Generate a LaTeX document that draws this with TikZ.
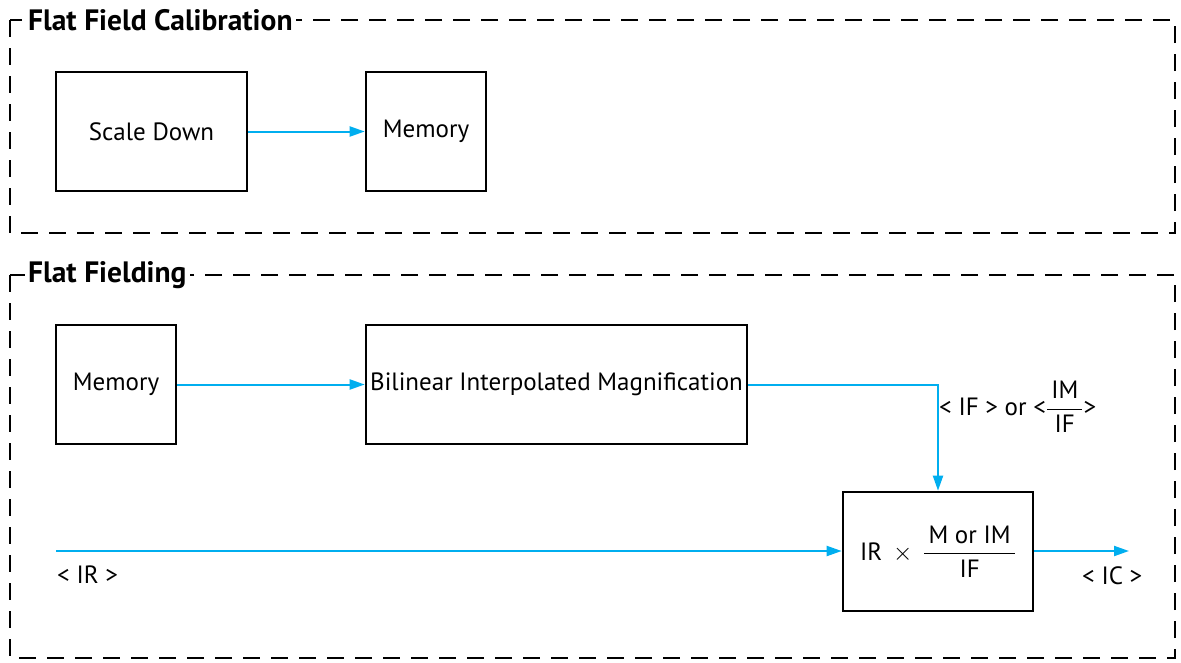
\documentclass[tikz,border=0pt]{standalone}
\usepackage{amsmath}
\usepackage{fontspec}
\setmainfont{PT Sans}
\usetikzlibrary{arrows.meta}
\definecolor{flowblue}{HTML}{00AEEF}
\tikzset{
  block/.style={draw=black, line width=2.6pt, fill=white, inner sep=0pt, font=\fontsize{25}{29}\selectfont},
  group/.style={draw=black, line width=2pt, dash pattern=on 17pt off 11pt},
  grouptitle/.style={fill=white, inner sep=3pt, anchor=west, font=\fontsize{29.5}{33}\selectfont\bfseries},
  flow/.style={draw=flowblue, line width=2pt, -{Triangle[length=15pt,width=10pt]}},
  lbl/.style={font=\fontsize{25}{29}\selectfont, inner sep=0pt}
}
\begin{document}
\begin{tikzpicture}[x=1pt,y=-1pt]
\useasboundingbox (0,0) rectangle (1181,662);
% groups
\draw[group] (10,20) rectangle (1175,233);
\node[grouptitle] (t1) at (25,20) {Flat Field Calibration};
\draw[group] (10,275) rectangle (1175,658);
\node[grouptitle] (t2) at (25,275) {Flat Fielding};
% top blocks
\node[block, minimum width=191pt, minimum height=119pt] (scale) at (151.5,131.5) {Scale Down};
\node[block, minimum width=120pt, minimum height=119pt] (mem1) at (426,131.5) {\raisebox{-2pt}{Memory}};
\draw[flow] (scale.east) -- (mem1.west);
% bottom blocks
\node[block, minimum width=120pt, minimum height=119pt] (mem2) at (116,384.5) {\raisebox{-2pt}{Memory}};
\node[block, minimum width=381pt, minimum height=119pt] (bil) at (556.5,384.5) {\raisebox{-2pt}{Bilinear Interpolated Magnification}};
\node[block, minimum width=190pt, minimum height=119pt] (res) at (938,551.5)
  {IR\, $\times$\, $\dfrac{\text{\,M or IM\,}}{\text{IF}}$};
\draw[flow] (mem2.east) -- (bil.west);
\coordinate (turn) at (res.north |- bil.east);
\draw[flow] (bil.east) -- (turn) -- (res.north);
\node[lbl, anchor=west] (iflbl) at (939,407) {< IF > or <$\dfrac{\text{\,IM\,}}{\text{IF}}$>};
\coordinate (irstart) at (56,551);
\draw[flow] (irstart) -- (res.west |- irstart);
\node[lbl, anchor=north west] (irlbl) at (57,566) {< IR >};
\coordinate (icend) at (1129,551);
\draw[flow] (res.east |- icend) -- (icend);
\node[lbl, anchor=north west] (iclbl) at (1082,566) {< IC >};
\end{tikzpicture}
\end{document}
